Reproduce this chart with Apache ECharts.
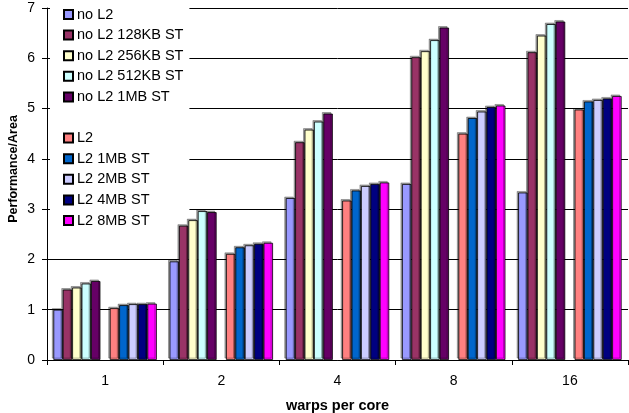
<!DOCTYPE html>
<html>
<head>
    <meta charset="utf-8" />
    <title>Performance/Area</title>
    <script src="https://cdn.jsdelivr.net/npm/echarts@6/dist/echarts.min.js"></script>
    <style>
        body { margin: 0; background: #fff; }
    </style>
</head>
<body>
<div id="main" style="width:629px;height:413px;"></div>

<script type="text/javascript">
    // categories (x axis)
    var warps = ['1', '2', '4', '8', '16'];

    // no L2 group
    var noL2      = [1.00, 1.96, 3.22, 3.50, 3.33];
    var noL2_128  = [1.40, 2.67, 4.33, 6.02, 6.12];
    var noL2_256  = [1.44, 2.78, 4.58, 6.14, 6.45];
    var noL2_512  = [1.52, 2.96, 4.74, 6.36, 6.68];
    var noL2_1M   = [1.57, 2.94, 4.90, 6.61, 6.73];

    // L2 group
    var L2        = [1.03, 2.11, 3.17, 4.50, 4.98];
    var L2_1M     = [1.09, 2.24, 3.37, 4.81, 5.14];
    var L2_2M     = [1.11, 2.28, 3.46, 4.94, 5.17];
    var L2_4M     = [1.11, 2.31, 3.50, 5.03, 5.20];
    var L2_8M     = [1.12, 2.33, 3.53, 5.06, 5.25];

    var yTicks = [0, 1, 2, 3, 4, 5, 6, 7];

    // ' ' is the empty slot between the two groups (also a blank legend row)
    var names  = ['no L2', 'no L2 128KB ST', 'no L2 256KB ST', 'no L2 512KB ST', 'no L2 1MB ST', ' ',
                  'L2', 'L2 1MB ST', 'L2 2MB ST', 'L2 4MB ST', 'L2 8MB ST'];
    var colors = ['#9999FF', '#993366', '#FFFFCC', '#CCFFFF', '#660066', 'transparent',
                  '#FF8080', '#0066CC', '#CCCCFF', '#000080', '#FF00FF'];
    var values = [noL2, noL2_128, noL2_256, noL2_512, noL2_1M, [],
                  L2, L2_1M, L2_2M, L2_4M, L2_8M];

    var font = 'Liberation Sans, Arial, sans-serif';

    var series = names.map(function (n, i) {
        var blank = (n === ' ');
        return {
            name: n,
            type: 'bar',
            z: 3,
            barGap: '0%',
            barCategoryGap: '11%',
            data: blank ? warps.map(function () { return '-'; }) : values[i],
            itemStyle: {
                color: colors[i],
                borderColor: blank ? 'transparent' : '#000',
                borderWidth: blank ? 0 : 0.8,
                shadowColor: blank ? 'transparent' : 'rgba(0,0,0,0.35)',
                shadowOffsetX: -1.5,
                shadowOffsetY: -1.5,
                shadowBlur: 0
            },
            emphasis: { disabled: true }
        };
    });

    var myChart = echarts.init(document.getElementById('main'));
    var option = {
        animation: false,
        textStyle: { fontFamily: font },
        grid: { left: 47, right: 1, top: 8, bottom: 53, outerBoundsMode: 'none', containLabel: false },
        legend: {
            data: names,
            z: 1,
            orient: 'vertical',
            left: 50,
            top: 0,
            padding: [7, 6, 1, 13],
            backgroundColor: '#fff',
            icon: 'rect',
            itemWidth: 9,
            itemHeight: 9,
            itemGap: 5.6,
            selectedMode: false,
            textStyle: { fontFamily: font, fontSize: 14.5, color: '#000', padding: [0, 0, 0, -1] }
        },
        xAxis: {
            type: 'category',
            data: warps,
            name: 'warps per core',
            nameLocation: 'middle',
            nameGap: 38,
            nameMoveOverlap: false,
            nameTextStyle: { fontFamily: font, fontSize: 14.5, fontWeight: 'bold', color: '#000' },
            axisLine: { lineStyle: { color: '#000', width: 1 } },
            axisTick: { show: true, length: 5, lineStyle: { color: '#000' } },
            axisLabel: { color: '#000', fontSize: 14, margin: 14, fontFamily: font }
        },
        yAxis: {
            type: 'value',
            min: yTicks[0],
            max: yTicks[yTicks.length - 1],
            interval: 1,
            name: 'Performance/Area',
            nameLocation: 'middle',
            nameGap: 27,
            nameMoveOverlap: false,
            nameRotate: 90,
            nameTextStyle: { fontFamily: font, fontSize: 12.5, fontWeight: 'bold', color: '#000', padding: [0, 0, 0, 30] },
            axisLine: { show: true, lineStyle: { color: '#000', width: 1 } },
            axisTick: { show: true, length: 5, lineStyle: { color: '#000' } },
            axisLabel: { color: '#000', fontSize: 14, margin: 12, fontFamily: font },
            splitLine: { lineStyle: { color: '#000', width: 1 } }
        },
        series: series
    };

    myChart.setOption(option);
</script>
</body>
</html>
